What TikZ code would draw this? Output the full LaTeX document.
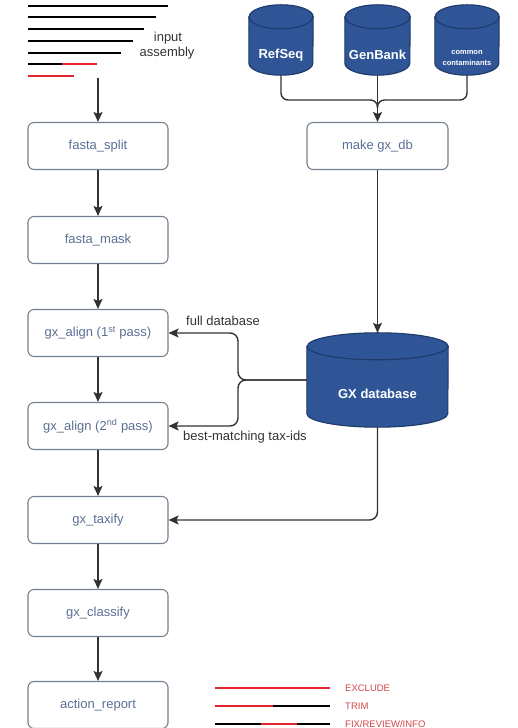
\documentclass[tikz,border=0pt]{standalone}
\usepackage{fontspec}
\setmainfont{Liberation Sans}
\usetikzlibrary{arrows.meta,backgrounds}

\definecolor{boxline}{HTML}{75808F}
\definecolor{boxtext}{HTML}{5B6F93}
\definecolor{dbfill}{HTML}{2F5597}
\definecolor{dbline}{HTML}{1F3A68}
\definecolor{wirecol}{HTML}{333333}
\definecolor{legred}{HTML}{E3262B}
\definecolor{legtext}{HTML}{D24545}

\tikzset{
  stepbox/.style={draw=boxline, line width=1.1pt, rounded corners=6pt,
    minimum width=140pt, minimum height=47pt, inner sep=0pt,
    text=boxtext, font=\fontsize{13}{15}\selectfont},
  dbframe/.style 2 args={minimum width=#1, minimum height=#2, inner sep=0pt},
  dbtext/.style={text=white, inner sep=0pt, align=center,
    font=\bfseries\fontsize{13}{15}\selectfont},
  wire/.style={draw=wirecol, line width=1.4pt},
  flow/.style={wire, -{Stealth[length=10pt,width=9pt,inset=2pt]}},
  seq/.style={line width=2.3pt},
  lbl/.style={text=black!80, inner sep=0pt, font=\fontsize{13}{15}\selectfont},
  legend/.style={text=legtext, inner sep=0pt, anchor=west, font=\fontsize{9.5}{10}\selectfont},
}

% cylinder body drawn inside a named frame node: #1 node, #2 half width, #3 cap radius
\newcommand{\dbdraw}[3]{%
  \path[fill=dbfill, draw=dbline, line width=1.1pt]
    ([yshift=-#3pt]#1.north west) -- ([yshift=#3pt]#1.south west)
    arc[start angle=180, end angle=360, x radius=#2pt, y radius=#3pt]
    -- ([yshift=-#3pt]#1.north east)
    arc[start angle=0, end angle=180, x radius=#2pt, y radius=#3pt] -- cycle;
  \draw[dbline, line width=1.1pt] ([yshift=-#3pt]#1.north west)
    arc[start angle=180, end angle=360, x radius=#2pt, y radius=#3pt];
}

\begin{document}
\begin{tikzpicture}[x=1pt, y=1pt]
\useasboundingbox (0,0) rectangle (518,728);

% input assembly sketch
\draw[seq, black] (28,722) -- (168,722);
\draw[seq, black] (28,711) -- (156,711);
\draw[seq, black] (28,699) -- (144,699);
\draw[seq, black] (28,687) -- (133,687);
\draw[seq, black] (28,675) -- (121,675);
\draw[seq, black] (28,664) -- (62,664);
\draw[seq, legred] (62,664) -- (97,664);
\draw[seq, legred] (28,652) -- (74,652);
\node[lbl] (inp1) at (168,690) {input};
\node[lbl] (inp2) at (167,675) {assembly};
\coordinate (asm) at (98,650);

% pipeline steps
\node[stepbox] (split)    at (98,582) {fasta\_split};
\node[stepbox] (mask)     at (98,488) {fasta\_mask};
\node[stepbox] (align1)   at (98,395) {gx\_align (1\textsuperscript{st} pass)};
\node[stepbox] (align2)   at (98,302) {gx\_align (2\textsuperscript{nd} pass)};
\node[stepbox] (taxify)   at (98,208) {gx\_taxify};
\node[stepbox] (classify) at (98,115) {gx\_classify};
\node[stepbox] (report)   at (98,23)  {action\_report};
\node[stepbox, minimum width=141pt] (mkdb) at (377.5,582) {make gx\_db};

% databases
\node[dbframe={64pt}{70pt}] (refseq)  at (281,688) {};
\node[dbframe={65pt}{70pt}] (genbank) at (377.5,688) {};
\node[dbframe={64pt}{70pt}] (contam)  at (467,688) {};
\node[dbframe={141pt}{94pt}] (gx)     at (377.5,348) {};
\begin{scope}[on background layer]
  \dbdraw{refseq}{32}{12}
  \dbdraw{genbank}{32.5}{12}
  \dbdraw{contam}{32}{12}
  \dbdraw{gx}{70.5}{13.5}
\end{scope}
\node[dbtext] (refseq-t)  at (281,673) {RefSeq};
\node[dbtext] (genbank-t) at (377.5,673) {GenBank};
\node[dbtext, font=\bfseries\fontsize{7.5}{11}\selectfont] (contam-t) at (467,670) {common\\contaminants};
\node[dbtext] (gx-t) at (377.5,334) {GX database};

% database sources merge into make gx_db
\coordinate (mergeY) at (0,628);
\draw[wire, rounded corners=7pt] (refseq.south) |- (genbank.south |- mergeY) -- ++(0,-8);
\draw[wire, rounded corners=7pt] (contam.south) |- (genbank.south |- mergeY) -- ++(0,-8);
\draw[flow] (genbank.south) -- (mkdb.north);
\draw[flow] (mkdb.south) -- (gx.north);

% main pipeline
\draw[flow] (asm) -- (split.north);
\draw[flow] (split) -- (mask);
\draw[flow] (mask) -- (align1);
\draw[flow] (align1) -- (align2);
\draw[flow] (align2) -- (taxify);
\draw[flow] (taxify) -- (classify);
\draw[flow] (classify) -- (report);

% database feeds
\coordinate (bx) at (238,0);
\draw[flow, rounded corners=8pt] (gx.west) -| (bx |- align1.east) -- (align1.east);
\draw[flow, rounded corners=8pt] (gx.west) -| (bx |- align2.east) -- (align2.east);
\draw[flow, rounded corners=8pt] (gx.south) |- (taxify.east);
\node[lbl, anchor=west] (fulldb) at (186,407) {full database};
\node[lbl, anchor=west] (besttax) at (183,291) {best-matching tax-ids};

% legend
\draw[line width=2.5pt, legred] (215,40) -- (330,40);
\draw[line width=2.5pt, legred] (215,22) -- (273,22);
\draw[line width=2.5pt, black] (273,22) -- (330,22);
\draw[line width=2.5pt, black] (215,4) -- (261,4);
\draw[line width=2.5pt, legred] (261,4) -- (297,4);
\draw[line width=2.5pt, black] (297,4) -- (330,4);
\node[legend] (lg1) at (345,40) {EXCLUDE};
\node[legend] (lg2) at (345,22) {TRIM};
\node[legend] (lg3) at (345,4) {FIX/REVIEW/INFO};
\end{tikzpicture}
\end{document}
